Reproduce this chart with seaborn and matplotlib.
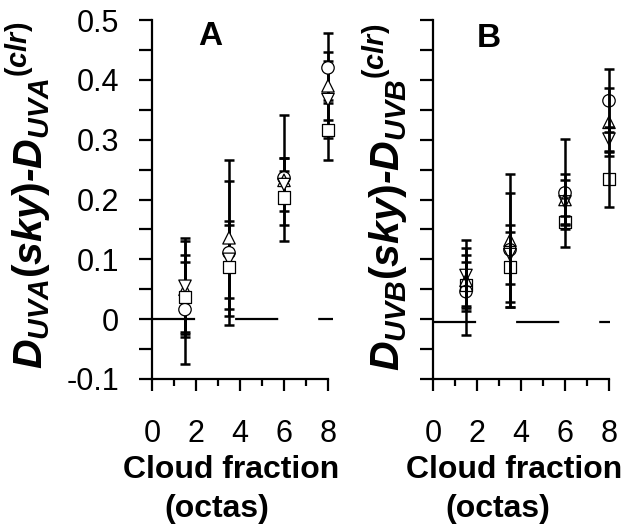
import numpy as np
import pandas as pd
import matplotlib
matplotlib.use("Agg")
import matplotlib.pyplot as plt
import seaborn as sns

# ---------------- data ----------------
cloud_fraction = [1.5, 3.5, 6.0, 8.0]
series_names = ["S1", "S2", "S3", "S4"]          # circle, triangle up, triangle down, square

# Panel A (UVA)
uva_s1 = [0.016, 0.111, 0.236, 0.420]
uva_s1_err = [0.091, 0.120, 0.105, 0.058]
uva_s2 = [0.050, 0.136, 0.232, 0.390]
uva_s2_err = [0.080, 0.130, 0.038, 0.057]
uva_s3 = [0.055, 0.100, 0.225, 0.367]
uva_s3_err = [0.080, 0.064, 0.045, 0.065]
uva_s4 = [0.037, 0.087, 0.203, 0.316]
uva_s4_err = [0.058, 0.070, 0.045, 0.050]

# Panel B (UVB)
uvb_s1 = [0.046, 0.116, 0.211, 0.365]
uvb_s1_err = [0.073, 0.095, 0.090, 0.053]
uvb_s2 = [0.065, 0.132, 0.200, 0.329]
uvb_s2_err = [0.043, 0.111, 0.042, 0.057]
uvb_s3 = [0.073, 0.108, 0.196, 0.301]
uvb_s3_err = [0.060, 0.050, 0.037, 0.020]
uvb_s4 = [0.057, 0.087, 0.162, 0.234]
uvb_s4_err = [0.038, 0.058, 0.011, 0.046]

# reference (zero) lines
uva_ref_x = [0.0, 8.23]
uva_ref_y = [0.0, 0.0]
uvb_ref_x = [0.0, 8.05]
uvb_ref_y = [-0.004, -0.004]

x_ticks = [0, 2, 4, 6, 8]
x_tick_labels = ["0", "2", "4", "6", "8"]
x_minor = [1, 3, 5, 7]
y_ticks = [-0.1, 0.0, 0.1, 0.2, 0.3, 0.4, 0.5]
y_tick_labels = ["-0.1", "0", "0.1", "0.2", "0.3", "0.4", "0.5"]
y_minor = [-0.05, 0.05, 0.15, 0.25, 0.35, 0.45]

def long_df(vals, errs):
    rows = []
    for name, v, e in zip(series_names, vals, errs):
        for x, yy, ee in zip(cloud_fraction, v, e):
            rows.append({"x": x, "y": yy, "err": ee, "series": name})
    return pd.DataFrame(rows)

dfA = long_df([uva_s1, uva_s2, uva_s3, uva_s4],
              [uva_s1_err, uva_s2_err, uva_s3_err, uva_s4_err])
dfB = long_df([uvb_s1, uvb_s2, uvb_s3, uvb_s4],
              [uvb_s1_err, uvb_s2_err, uvb_s3_err, uvb_s4_err])

# ---------------- style ----------------
sns.set_style("ticks")
plt.rcParams["font.family"] = ["Liberation Sans", "DejaVu Sans"]
plt.rcParams["mathtext.fontset"] = "custom"
plt.rcParams["mathtext.it"] = "Liberation Sans:italic:bold"
plt.rcParams["mathtext.rm"] = "Liberation Sans:bold"
plt.rcParams["mathtext.bf"] = "Liberation Sans:bold"
for k in ["text.color", "axes.labelcolor", "xtick.color", "ytick.color",
          "axes.edgecolor", "xtick.labelcolor", "ytick.labelcolor"]:
    plt.rcParams[k] = "black"

W, H = 641, 524
fig = plt.figure(figsize=(W / 100, H / 100), dpi=100)
fig.patch.set_facecolor("white")

def px_rect(l, r, t, b):
    return [l / W, 1 - b / H, (r - l) / W, (b - t) / H]

axA = fig.add_axes(px_rect(152, 328, 20, 379))
axB = fig.add_axes(px_rect(433, 609, 20, 379))

markers = {"S1": "o", "S2": "^", "S3": "v", "S4": "s"}

def draw_panel(ax, df, ref_x, ref_y, face, show_ylabels):
    ax.plot(ref_x, ref_y, color="black", lw=1.6, dashes=(19.4, 18.0), clip_on=False, zorder=1)
    for name in series_names:
        d = df[df["series"] == name]
        cont = ax.errorbar(d["x"], d["y"], yerr=d["err"], fmt="none", ecolor="black",
                           elinewidth=1.8, capsize=3.8, capthick=1.8, zorder=2)
        for art in cont.lines[1] + cont.lines[2]:
            art.set_clip_on(False)
    sns.scatterplot(data=df, x="x", y="y", style="series", markers=markers,
                    s=80, facecolor=face, edgecolor="black", linewidth=0.9,
                    legend=False, ax=ax, clip_on=False, zorder=3)
    ax.set_xlim(0, 8)
    ax.set_ylim(-0.1, 0.5)
    ax.set_xticks(x_ticks)
    ax.set_xticklabels(x_tick_labels)
    ax.set_xticks(x_minor, minor=True)
    ax.set_yticks(y_ticks)
    ax.set_yticks(y_minor, minor=True)
    if show_ylabels:
        ax.set_yticklabels(y_tick_labels)
    else:
        ax.set_yticklabels([])
    ax.set_xlabel("")
    ax.set_ylabel("")
    sns.despine(ax=ax)
    for sp in ["left", "bottom"]:
        ax.spines[sp].set_linewidth(1.6)
        ax.spines[sp].set_color("black")
    ax.tick_params(axis="y", which="both", direction="out", length=9.5, width=1.6,
                   labelsize=22, pad=14, colors="black")
    ax.tick_params(axis="x", which="major", direction="out", length=8.6, width=1.6,
                   labelsize=22, pad=20, colors="black")
    ax.tick_params(axis="x", which="minor", direction="out", length=5, width=1.6)
    ax.set_facecolor("white")

draw_panel(axA, dfA, uva_ref_x, uva_ref_y, "white", True)
draw_panel(axB, dfB, uvb_ref_x, uvb_ref_y, "none", False)

def ftext(xp, yp, s, **kw):
    fig.text(xp / W, 1 - yp / H, s, color="black", **kw)

# panel letters
ftext(210, 45, "A", fontsize=24, fontweight="bold", ha="center", va="baseline")
ftext(489, 47, "B", fontsize=24, fontweight="bold", ha="center", va="baseline")

# y labels
ftext(29, 195, r"$D_{UVA}(sky)$-$D_{UVA}{}^{(clr)}$", fontsize=29.5, fontweight="bold",
      style="italic", rotation=90, ha="center", va="center")
ftext(386, 197, r"$D_{UVB}(sky)$-$D_{UVB}{}^{(clr)}$", fontsize=29.5, fontweight="bold",
      style="italic", rotation=90, ha="center", va="center")

# x labels
ftext(231, 478, "Cloud fraction", fontsize=23, fontweight="bold", ha="center", va="baseline")
ftext(217, 517, "(octas)", fontsize=23, fontweight="bold", ha="center", va="baseline")
ftext(514, 478, "Cloud fraction", fontsize=23, fontweight="bold", ha="center", va="baseline")
ftext(498, 517, "(octas)", fontsize=23, fontweight="bold", ha="center", va="baseline")

fig.savefig("out.png", dpi=100, facecolor="white")
